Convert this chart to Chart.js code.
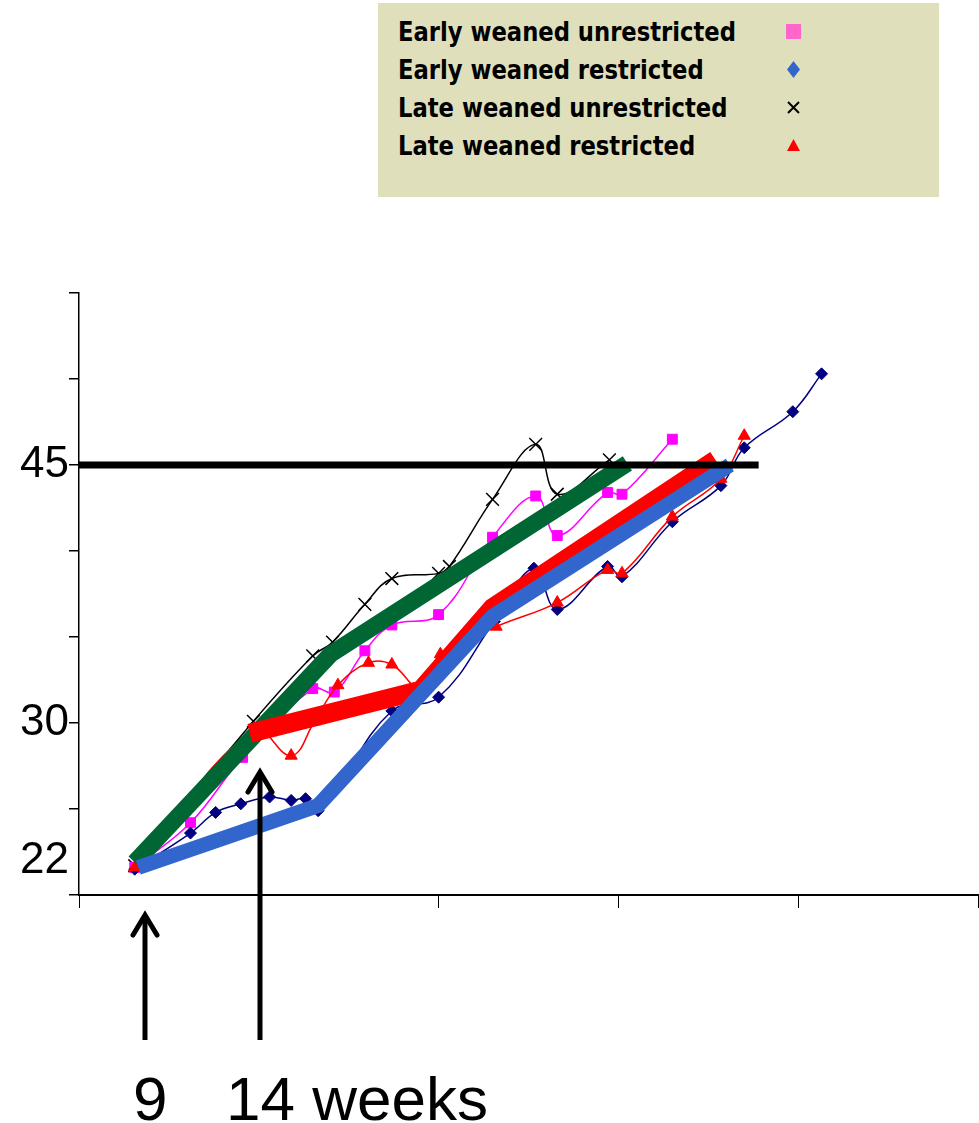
<!DOCTYPE html>
<html>
<head>
<meta charset="utf-8">
<script src="https://cdn.jsdelivr.net/npm/chart.js@4.4.0/dist/chart.umd.min.js"></script>
<style>
  body { margin: 0; background: #fff; }
  #wrap { position: relative; width: 979px; height: 1123px; overflow: hidden; }
  #myChart { position: absolute; left: 0; top: 0; }
  #key { position: absolute; left: 378px; top: 3px; width: 561px; height: 194px; background: #DFDFBB; }
  #key .row { position: absolute; left: 20px; font: bold 27px "DejaVu Sans", sans-serif; line-height: 27px;
              white-space: nowrap; color: #000; transform-origin: 0 0; }
  #key svg { position: absolute; left: 400px; }
  .weeks { position: absolute; top: 1068px; font: 62px "Liberation Sans", Arial, sans-serif; line-height: 62px; color: #000; }
</style>
</head>
<body>
<div id="wrap">
  <canvas id="myChart" width="979" height="1123"></canvas>
  <div id="key"></div>
  <div class="weeks" style="left:133px">9</div>
  <div class="weeks" style="left:226px">14 weeks</div>
</div>
<script>
// series names (legend)
const names = ["Early weaned unrestricted", "Early weaned restricted", "Late weaned unrestricted", "Late weaned restricted"];

// early weaned unrestricted
const ewuX = [3.1, 6.2, 9.1, 13.0, 14.2, 15.9, 17.4, 20.0, 23.0, 25.4, 26.6, 29.4, 30.2, 33.0];
const ewuY = [21.6, 24.2, 28.0, 32.0, 31.8, 34.2, 35.7, 36.3, 40.8, 43.2, 40.9, 43.4, 43.3, 46.5];

// early weaned restricted
const ewrX = [3.1, 6.2, 7.6, 9.0, 10.6, 11.8, 12.6, 13.3, 14.2, 17.4, 20.0, 23.1, 25.3, 26.6, 29.4, 30.2, 33.0, 35.7, 37.0, 39.7, 41.3];
const ewrY = [21.5, 23.6, 24.8, 25.3, 25.7, 25.5, 25.6, 24.9, 26.0, 30.7, 31.5, 35.9, 39.0, 36.6, 39.1, 38.5, 41.7, 43.8, 46.0, 48.1, 50.3];

// late weaned unrestricted
const lwuX = [3.1, 9.7, 13.0, 14.1, 15.9, 17.4, 20.0, 20.6, 23.0, 25.4, 26.6, 29.5];
const lwuY = [21.7, 30.1, 33.9, 34.7, 36.9, 38.4, 38.7, 39.1, 43.0, 46.2, 43.3, 45.3];

// late weaned restricted
const lwrX = [3.1, 9.7, 11.8, 13.1, 14.4, 16.1, 17.4, 19.0, 20.1, 23.2, 26.6, 29.4, 30.2, 33.0, 35.7, 37.0];
const lwrY = [21.6, 29.6, 28.1, 30.1, 32.2, 33.5, 33.4, 32.0, 34.0, 35.6, 37.0, 38.9, 38.7, 42.0, 44.2, 46.7];

// thick trend lines
const greenX = [3.1, 14.0, 30.5];
const greenY = [21.9, 34.0, 45.1];
const redX = [9.5, 19.0, 23.0, 35.4];
const redY = [29.4, 31.9, 36.7, 45.3];
const blueX = [3.3, 13.3, 23.0, 36.2];
const blueY = [21.6, 25.2, 36.2, 45.0];

// target line at 45
const targetX = [0, 37.8];
const targetY = [45, 45];

// axes
const xTicks = [0, 10, 20, 30, 40, 50];
const yTicks = [20, 22, 25, 30, 35, 40, 45, 50, 55];
const yLabels = [22, 30, 45];

// arrows under the chart (x in axis units)
const arrowX = [3.67, 10.07];
const arrowTip = [913, 770];

function pts(xs, ys) {
  return xs.map((x, i) => ({ x: x, y: ys[i] }));
}

// legend box
const keyMarks = [
  '<rect x="1" y="1" width="15" height="15" fill="#FF66CC"/>',
  '<polygon points="8.5,0 15,8.5 8.5,17 2,8.5" fill="#3366CC"/>',
  '<path d="M3,3 L14,14 M14,3 L3,14" stroke="#000" stroke-width="2"/>',
  '<polygon points="8.5,2 15,14 2,14" fill="#FF0000"/>'
];
const key = document.getElementById("key");
const rowTop = [15, 53, 91, 129];
for (i = 0; i < names.length; i++) {
  const row = document.createElement("div");
  row.className = "row";
  row.style.top = rowTop[i] + "px";
  row.textContent = names[i];
  key.appendChild(row);
  const svg = document.createElementNS("http://www.w3.org/2000/svg", "svg");
  svg.setAttribute("width", "17");
  svg.setAttribute("height", "17");
  svg.style.left = (793 - 378 - 8) + "px";
  svg.style.top = (rowTop[i] + 5) + "px";
  svg.innerHTML = keyMarks[i];
  key.appendChild(svg);
}
// squeeze the bold text to the width of the original
const rows = key.querySelectorAll(".row");
const sx = 338 / rows[0].getBoundingClientRect().width;
rows.forEach(r => { r.style.transform = "scaleX(" + sx + ")"; });

const arrows = {
  id: "arrows",
  afterDraw(chart) {
    const ctx = chart.ctx;
    const xs = chart.scales.x;
    ctx.save();
    ctx.strokeStyle = "#000";
    ctx.lineWidth = 5;
    for (i = 0; i < arrowX.length; i++) {
      const px = Math.round(xs.getPixelForValue(arrowX[i]));
      ctx.lineCap = "butt";
      ctx.beginPath();
      ctx.moveTo(px, 1040);
      ctx.lineTo(px, arrowTip[i] + 2);
      ctx.stroke();
      ctx.lineCap = "round";
      ctx.lineJoin = "miter";
      ctx.beginPath();
      ctx.moveTo(px - 12, arrowTip[i] + 22);
      ctx.lineTo(px, arrowTip[i] + 2);
      ctx.lineTo(px + 12, arrowTip[i] + 22);
      ctx.stroke();
    }
    ctx.restore();
  }
};

new Chart(document.getElementById("myChart"), {
  type: "line",
  data: {
    datasets: [
      { label: "target", data: pts(targetX, targetY), borderColor: "#000", borderWidth: 7,
        pointRadius: 0, tension: 0, order: 0 },
      { label: "blue trend", data: pts(blueX, blueY), borderColor: "#3366CC", borderWidth: 15,
        pointRadius: 0, tension: 0, order: 1 },
      { label: "red trend", data: pts(redX, redY), borderColor: "#FF0000", borderWidth: 19,
        pointRadius: 0, tension: 0, order: 2 },
      { label: "green trend", data: pts(greenX, greenY), borderColor: "#006633", borderWidth: 17,
        pointRadius: 0, tension: 0, order: 3 },
      { label: names[3], data: pts(lwrX, lwrY), borderColor: "#FF0000", borderWidth: 1.5,
        pointStyle: "triangle", pointRadius: 7, pointBackgroundColor: "#FF0000", pointBorderColor: "#FF0000",
        pointBorderWidth: 1, tension: 0.4, order: 4 },
      { label: names[1], data: pts(ewrX, ewrY), borderColor: "#000080", borderWidth: 1.5,
        pointStyle: "rectRot", pointRadius: 6, pointBackgroundColor: "#000080", pointBorderColor: "#000080",
        pointBorderWidth: 1, tension: 0.4, order: 5 },
      { label: names[0], data: pts(ewuX, ewuY), borderColor: "#FF00FF", borderWidth: 1.5,
        pointStyle: "rect", pointRadius: 7, pointBackgroundColor: "#FF00FF", pointBorderColor: "#FF00FF",
        pointBorderWidth: 1, tension: 0.4, order: 6 },
      { label: names[2], data: pts(lwuX, lwuY), borderColor: "#000", borderWidth: 1.5,
        pointStyle: "crossRot", pointRadius: 9, pointBorderColor: "#000",
        pointBorderWidth: 1.5, tension: 0.4, order: 7 }
    ]
  },
  options: {
    responsive: false,
    animation: false,
    layout: { autoPadding: false, padding: { top: 293, right: 1, bottom: 0, left: 0 } },
    plugins: { legend: { display: false }, tooltip: { enabled: false } },
    scales: {
      x: {
        type: "linear", min: 0, max: 50,
        afterBuildTicks: (scale) => { scale.ticks = xTicks.map(v => ({ value: v })); },
        afterFit: (scale) => { scale.height = 228; },
        ticks: { display: false },
        grid: { drawOnChartArea: false, tickLength: 13, color: "#000", lineWidth: 1 },
        border: { color: "#000", width: 2 }
      },
      y: {
        type: "linear", min: 20, max: 55,
        afterBuildTicks: (scale) => { scale.ticks = yTicks.map(v => ({ value: v })); },
        afterFit: (scale) => { scale.width = 79; },
        ticks: {
          autoSkip: false, padding: 0, color: "#000",
          font: { family: "'Liberation Sans', Arial", size: 44 },
          callback: (v) => yLabels.includes(v) ? String(v) : ""
        },
        grid: {
          drawOnChartArea: false, tickLength: 10, lineWidth: 1.5,
          color: "#000",
          tickColor: (c) => (c.tick && c.tick.value === 22) ? "rgba(0,0,0,0)" : "#000"
        },
        border: { color: "#000", width: 1.5 }
      }
    }
  },
  plugins: [arrows]
});
</script>
</body>
</html>
